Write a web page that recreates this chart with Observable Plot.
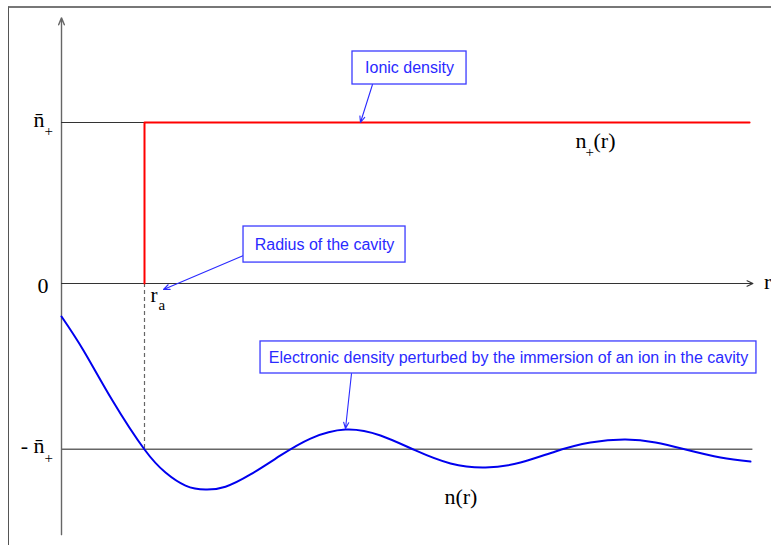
<!DOCTYPE html>
<html>
<head>
<meta charset="utf-8">
<script src="https://cdn.jsdelivr.net/npm/d3@7"></script>
<script src="https://cdn.jsdelivr.net/npm/@observablehq/plot@0.6"></script>
<style>
  html, body { margin: 0; padding: 0; background: #fff; }
  #wrap { position: relative; width: 771px; height: 545px; overflow: hidden; }
  #frame { position: absolute; left: 8px; top: 6px; width: 780px; height: 560px;
           border-top: 2px solid #777; border-left: 1.5px solid #555; pointer-events: none; }
  svg { display: block; }
</style>
</head>
<body>
<div id="wrap"><div id="frame"></div></div>
<script>
// ---- data (r in units of r_a, density in units of n̄+) ----
const rA = 1;            // radius of the cavity
const nBar = 1;          // ionic density level  n̄+
const nBarLow = -1.03;   // level -n̄+ as drawn
const rEnd = 8.29;       // end of the ionic density line
const axisEnd = 8.33;    // end of r axis / lower level line
const yAxisLow = -1.56, yAxisHigh = 1.65;

// electronic density n(r)
const electronR = [0, 0.265, 0.614, 1.0, 1.253, 1.494, 1.735, 1.976, 2.277, 2.639, 3.0, 3.422,
                   3.843, 4.265, 4.687, 5.108, 5.530, 5.952, 6.373, 6.795, 7.157, 7.518, 7.940, 8.301];
const electronN = [-0.205, -0.416, -0.727, -1.031, -1.174, -1.255, -1.280, -1.262, -1.186, -1.068, -0.963, -0.907,
                   -0.944, -1.037, -1.118, -1.143, -1.112, -1.043, -0.988, -0.969, -0.988, -1.031, -1.081, -1.106];

// y-level tick labels
const levelValues = [nBar, 0, nBarLow];
const levelMain = ["n\u0304", "0", "- n\u0304"];
const levelSub = ["+", "", "+"];

// callouts
const calloutText = ["Ionic density", "Radius of the cavity",
  "Electronic density perturbed by the immersion of an ion in the cavity"];
const boxR1 = [3.506, 2.193, 2.398];
const boxR2 = [4.880, 4.145, 8.373];
const boxN1 = [1.236, 0.130, -0.559];
const boxN2 = [1.441, 0.354, -0.360];
const arrowFromR = [3.747, 2.193, 3.494];
const arrowFromN = [1.236, 0.174, -0.559];
const arrowToR = [3.602, 1.229, 3.422];
const arrowToN = [1.0, -0.037, -0.901];

// curve name labels
const curveLabelR = [6.193, 4.614];
const curveLabelN = [0.888, -1.323];
const curveLabelMain = ["n", "n(r)"];
const curveLabelSub = ["+", ""];
const curveLabelTail = ["(r)", ""];

// ---- build tables ----
const electron = electronR.map((r, i) => ({r, n: electronN[i]}));
const ionic = [{r: rA, n: 0}, {r: rA, n: nBar}, {r: rEnd, n: nBar}];
const levels = levelValues.map((v, i) => ({v, main: levelMain[i], sub: levelSub[i]}));
const callouts = calloutText.map((t, i) => ({
  t, r1: boxR1[i], r2: boxR2[i], n1: boxN1[i], n2: boxN2[i],
  fr: arrowFromR[i], fn: arrowFromN[i], tr: arrowToR[i], tn: arrowToN[i],
  cr: (boxR1[i] + boxR2[i]) / 2, cn: (boxN1[i] + boxN2[i]) / 2
}));
const curveLabels = curveLabelR.map((r, i) => ({r, n: curveLabelN[i], main: curveLabelMain[i], sub: curveLabelSub[i], tail: curveLabelTail[i]}));

const serif = "Liberation Serif, Times New Roman, serif";
const sans = "Liberation Sans, Arial, Helvetica, sans-serif";
const blue = "#2a2aff";

const chart = Plot.plot({
  width: 771,
  height: 545,
  margin: 0,
  x: {type: "linear", domain: [0, 1], range: [61, 144], axis: null},
  y: {type: "linear", domain: [0, 1], range: [283, 122], axis: null},
  marks: [
    Plot.arrow([{}], {x1: () => 0, x2: () => 0, y1: () => yAxisLow, y2: () => yAxisHigh,
      stroke: "#666", strokeWidth: 1.4, headLength: 8, headAngle: 45}),
    Plot.arrow([{}], {x1: () => 0, x2: () => axisEnd, y1: () => 0, y2: () => 0,
      stroke: "#333", strokeWidth: 1.2, headLength: 8, headAngle: 50}),
    Plot.ruleY([nBar], {x1: 0, x2: rA, stroke: "#333", strokeWidth: 1.2}),
    Plot.ruleY([nBarLow], {x1: 0, x2: axisEnd, stroke: "#666", strokeWidth: 1.5}),
    Plot.ruleX([rA], {y1: 0, y2: nBarLow, stroke: "#666", strokeWidth: 1.2, strokeDasharray: "4,3"}),
    Plot.line(ionic, {x: "r", y: "n", stroke: "#ff0000", strokeWidth: 2}),
    Plot.line(electron, {x: "r", y: "n", stroke: "#0000ee", strokeWidth: 2, curve: "natural"}),

    // level labels
    Plot.text(levels.filter(d => d.sub), {x: () => 0, y: "v", text: "main", textAnchor: "end",
      dx: -17, dy: -3, fontFamily: serif, fontSize: 22, fill: "#000"}),
    Plot.text(levels.filter(d => d.sub), {x: () => 0, y: "v", text: "sub", textAnchor: "start",
      dx: -17, dy: 9, fontFamily: serif, fontSize: 15, fill: "#000"}),
    Plot.text(levels.filter(d => !d.sub), {x: () => 0, y: "v", text: "main", textAnchor: "end",
      dx: -13, dy: 2, fontFamily: serif, fontSize: 22, fill: "#000"}),

    // axis name r and r_a
    Plot.text(["r"], {x: () => axisEnd, y: () => 0, text: d => d, textAnchor: "start",
      dx: 11, dy: -2, fontFamily: serif, fontSize: 22, fill: "#000"}),
    Plot.text(["r"], {x: () => rA, y: () => 0, text: d => d, textAnchor: "start",
      dx: 6, dy: 12, fontFamily: serif, fontSize: 21, fill: "#000"}),
    Plot.text(["a"], {x: () => rA, y: () => 0, text: d => d, textAnchor: "start",
      dx: 14, dy: 22, fontFamily: serif, fontSize: 15, fill: "#000"}),

    // curve labels
    Plot.text(curveLabels, {x: "r", y: "n", text: "main", textAnchor: "start",
      fontFamily: serif, fontSize: 22, fill: "#000"}),
    Plot.text(curveLabels.filter(d => d.sub), {x: "r", y: "n", text: "sub", textAnchor: "start",
      dx: 10, dy: 12, fontFamily: serif, fontSize: 15, fill: "#000"}),
    Plot.text(curveLabels.filter(d => d.tail), {x: "r", y: "n", text: "tail", textAnchor: "start",
      dx: 18, fontFamily: serif, fontSize: 22, fill: "#000"}),

    // callouts
    Plot.arrow(callouts, {x1: "fr", y1: "fn", x2: "tr", y2: "tn", stroke: blue, strokeWidth: 1.1,
      headLength: 9, headAngle: 45}),
    Plot.rect(callouts, {x1: "r1", x2: "r2", y1: "n1", y2: "n2", fill: "white", stroke: "#3b3bff", strokeWidth: 1.3}),
    Plot.text(callouts, {x: "cr", y: "cn", text: "t", fontFamily: sans, fontSize: 16, fill: blue})
  ]
});
document.getElementById("wrap").prepend(chart);
</script>
</body>
</html>
